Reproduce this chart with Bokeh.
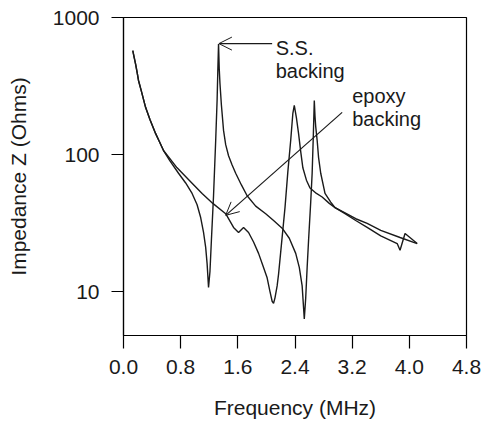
from bokeh.plotting import figure
from bokeh.models import Range1d, FixedTicker, Arrow, OpenHead, Label, PrintfTickFormatter
from bokeh.embed import file_html
from bokeh.resources import INLINE

# S.S. backing impedance curve (MHz, Ohms)
ss_freq = [0.13, 0.15, 0.17, 0.19, 0.21, 0.25, 0.31, 0.37, 0.45, 0.50, 0.56,
           0.65, 0.77, 0.87, 0.96, 1.03, 1.08, 1.12, 1.15, 1.17, 1.19,
           1.21, 1.23, 1.26, 1.29, 1.31, 1.32, 1.33, 1.34, 1.35, 1.37, 1.40,
           1.43, 1.47, 1.52, 1.57, 1.65, 1.73, 1.85, 1.99, 2.10, 2.22, 2.32,
           2.41, 2.46, 2.50, 2.53, 2.55, 2.57, 2.59, 2.62, 2.64, 2.655, 2.665,
           2.67, 2.68, 2.69, 2.71, 2.73, 2.76, 2.82, 2.90, 2.96, 3.10, 3.25,
           3.41, 3.60, 3.83, 3.87, 3.94, 4.11]
ss_z = [574, 510, 455, 400, 347, 290, 220, 180, 142, 125, 107,
        90, 73, 62, 52, 43, 34.7, 27, 21, 16, 10.7,
        14, 23.6, 50, 126, 250, 410, 640, 420, 330, 230, 150,
        118, 98, 84, 73, 60, 50, 42, 37, 33, 29, 24.5,
        19, 15, 11, 6.3, 9, 15, 23.7, 45, 73, 130, 200,
        248, 190, 160, 127, 95, 73, 52, 45, 41, 37, 33,
        29.4, 25.5, 22.4, 20, 26.5, 22.4]

# Epoxy backing impedance curve (MHz, Ohms)
ep_freq = [0.13, 0.15, 0.17, 0.19, 0.21, 0.25, 0.31, 0.37, 0.45, 0.50, 0.56,
           0.75, 0.97, 1.10, 1.25, 1.43, 1.54, 1.61, 1.68, 1.75, 1.82, 1.89,
           1.95, 2.01, 2.05, 2.08, 2.10, 2.12, 2.15, 2.17, 2.21, 2.26, 2.30,
           2.34, 2.37, 2.39, 2.42, 2.45, 2.48, 2.51, 2.56, 2.61, 2.70, 2.78,
           2.88, 2.96, 3.10, 3.25, 3.41, 3.60, 3.87, 4.11]
ep_z = [574, 510, 455, 400, 347, 290, 220, 180, 142, 125, 107,
        80, 61, 52, 44, 37, 29.4, 27, 29.4, 27, 23, 19,
        15.5, 12.6, 10, 8.5, 8.2, 9, 11, 13.4, 22, 41, 75,
        127, 200, 228, 185, 142, 105, 80, 65, 57, 52, 49,
        44, 41, 37.5, 34, 31.4, 28, 24.8, 22.4]

x_ticks = [0.0, 0.8, 1.6, 2.4, 3.2, 4.0, 4.8]
y_ticks = [10, 100, 1000]

FONT = "Liberation Sans"
INK = "#1a1a1a"

p = figure(width=482, height=427, y_axis_type="log",
           x_range=Range1d(0, 4.8), y_range=Range1d(4.78, 1000),
           output_backend="svg", toolbar_location=None,
           min_border_left=123, min_border_right=16,
           min_border_top=17, min_border_bottom=92,
           background_fill_color="white", border_fill_color="white")

p.xgrid.visible = False
p.ygrid.visible = False
p.outline_line_color = "black"
p.outline_line_width = 1.2

p.line(ss_freq, ss_z, line_color=INK, line_width=1.4)
p.line(ep_freq, ep_z, line_color=INK, line_width=1.4)

# annotations
p.add_layout(Arrow(end=OpenHead(size=13, line_width=1, line_color=INK),
                   x_start=2.08, y_start=645, x_end=1.335, y_end=645,
                   line_width=1.2, line_color=INK))
p.add_layout(Arrow(end=OpenHead(size=13, line_width=1, line_color=INK),
                   x_start=3.06, y_start=203, x_end=1.43, y_end=36,
                   line_width=1.2, line_color=INK))
for txt, xx, yy in [("S.S.", 2.13, 594), ("backing", 2.13, 410),
                    ("epoxy", 3.20, 269), ("backing", 3.20, 183)]:
    p.add_layout(Label(x=xx, y=yy, text=txt, text_font=FONT, text_font_size="20px",
                       text_color=INK, text_baseline="alphabetic"))

for ax in (p.xaxis, p.yaxis):
    ax.axis_line_color = "black"
    ax.axis_line_width = 1.2
    ax.major_tick_line_color = "black"
    ax.major_tick_line_width = 1.2
    ax.major_tick_in = 0
    ax.minor_tick_line_color = None
    ax.major_label_text_font = FONT
    ax.major_label_text_font_size = "21px"
    ax.major_label_text_color = INK
    ax.axis_label_text_font = FONT
    ax.axis_label_text_font_size = "21px"
    ax.axis_label_text_font_style = "normal"
    ax.axis_label_text_color = INK

p.xaxis.ticker = FixedTicker(ticks=x_ticks)
p.xaxis.formatter = PrintfTickFormatter(format="%.1f")
p.xaxis.major_tick_out = 13
p.xaxis.major_label_standoff = 11
p.xaxis.axis_label = "Frequency (MHz)"
p.xaxis.axis_label_standoff = 19

p.yaxis.ticker = FixedTicker(ticks=y_ticks)
p.yaxis.formatter = PrintfTickFormatter(format="%d")
p.yaxis.major_tick_out = 12
p.yaxis.major_label_standoff = 12
p.yaxis.axis_label = "Impedance Z (Ohms)"
p.yaxis.axis_label_standoff = 20

open("out.html", "w").write(file_html(p, INLINE))
